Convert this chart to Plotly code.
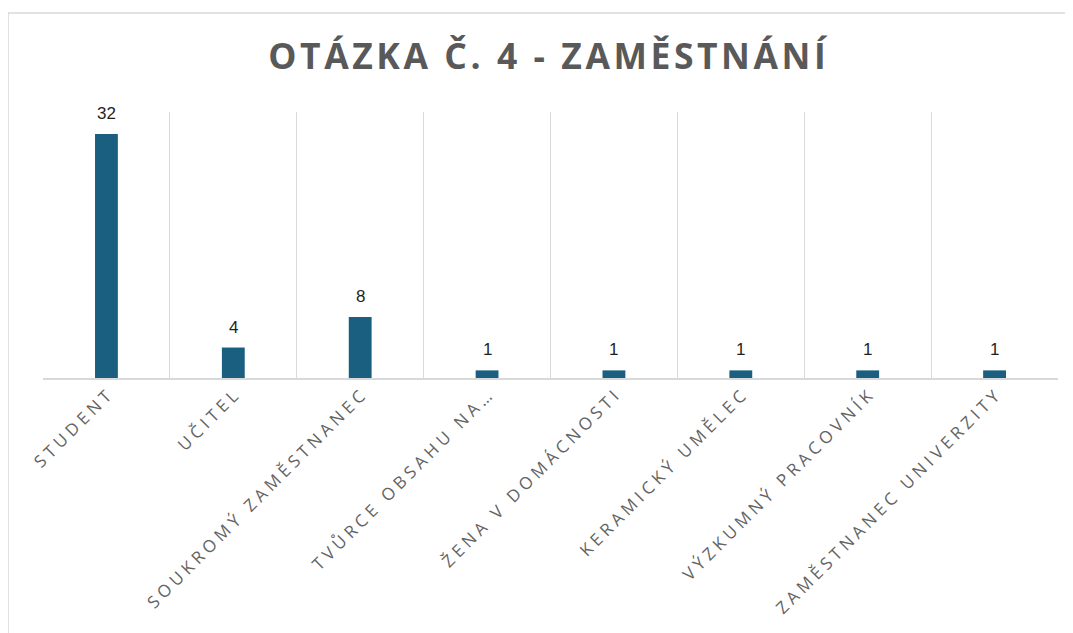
import plotly.graph_objects as go

categories = ["STUDENT", "UČITEL", "SOUKROMÝ ZAMĚSTNANEC", "TVŮRCE OBSAHU NA…",
              "ŽENA V DOMÁCNOSTI", "KERAMICKÝ UMĚLEC", "VÝZKUMNÝ PRACOVNÍK",
              "ZAMĚSTNANEC UNIVERZITY"]
values = [32, 4, 8, 1, 1, 1, 1, 1]
title_text = "OTÁZKA Č. 4 - ZAMĚSTNÁNÍ"


def spaced(s, sep="\u2009"):
    return sep.join(list(s))


W, H = 1073, 633
OFF = 8  # page body offset
L, R, T, B = 43 - OFF, 1073 - 1058 + OFF, 112 - OFF, 633 - 378 + OFF
pw, ph = W - L - R, H - T - B

fig = go.Figure(go.Bar(
    x=categories, y=values,
    marker=dict(color="#1a5f80", line=dict(width=0)),
    hoverinfo="x+y",
))

for c, v in zip(categories, values):
    fig.add_annotation(x=c, y=v, text=str(v), showarrow=False,
                       yanchor="bottom", yshift=9,
                       font=dict(family="Liberation Sans, Arial", size=17, color="#1f1f1f"))

fig.update_layout(
    width=W, height=H,
    margin=dict(l=L, r=R, t=T, b=B),
    paper_bgcolor="white", plot_bgcolor="white",
    bargap=0.82,
    showlegend=False,
    title=dict(text=spaced(title_text, "\u200a"), x=(547 - OFF) / W, xanchor="center",
               y=1 - (57 - OFF) / H, yanchor="middle",
               font=dict(family="Open Sans", size=35.5, color="#595959", weight="bold")),
    xaxis=dict(
        type="category", tickson="boundaries", showgrid=True, gridcolor="#d9d9d9",
        gridwidth=1, showline=True, linecolor="#d9d9d9", linewidth=1.5,
        ticks="", tickangle=-45,
        tickvals=categories, ticktext=[spaced(c, "\u2005") for c in categories],
        tickfont=dict(family="Open Sans", size=17, color="#636363"),
        automargin=False,
    ),
    yaxis=dict(range=[0, 34.9], visible=False, showgrid=False, zeroline=False),
    shapes=[dict(type="rect", xref="paper", yref="paper",
                 x0=(8 - OFF - L) / pw, x1=1.1, y0=-1.5, y1=(H - B - (13 - OFF)) / ph,
                 line=dict(color="#d9d9d9", width=1.5), fillcolor="rgba(0,0,0,0)",
                 layer="below")],
)

fig.write_html("out.html")
